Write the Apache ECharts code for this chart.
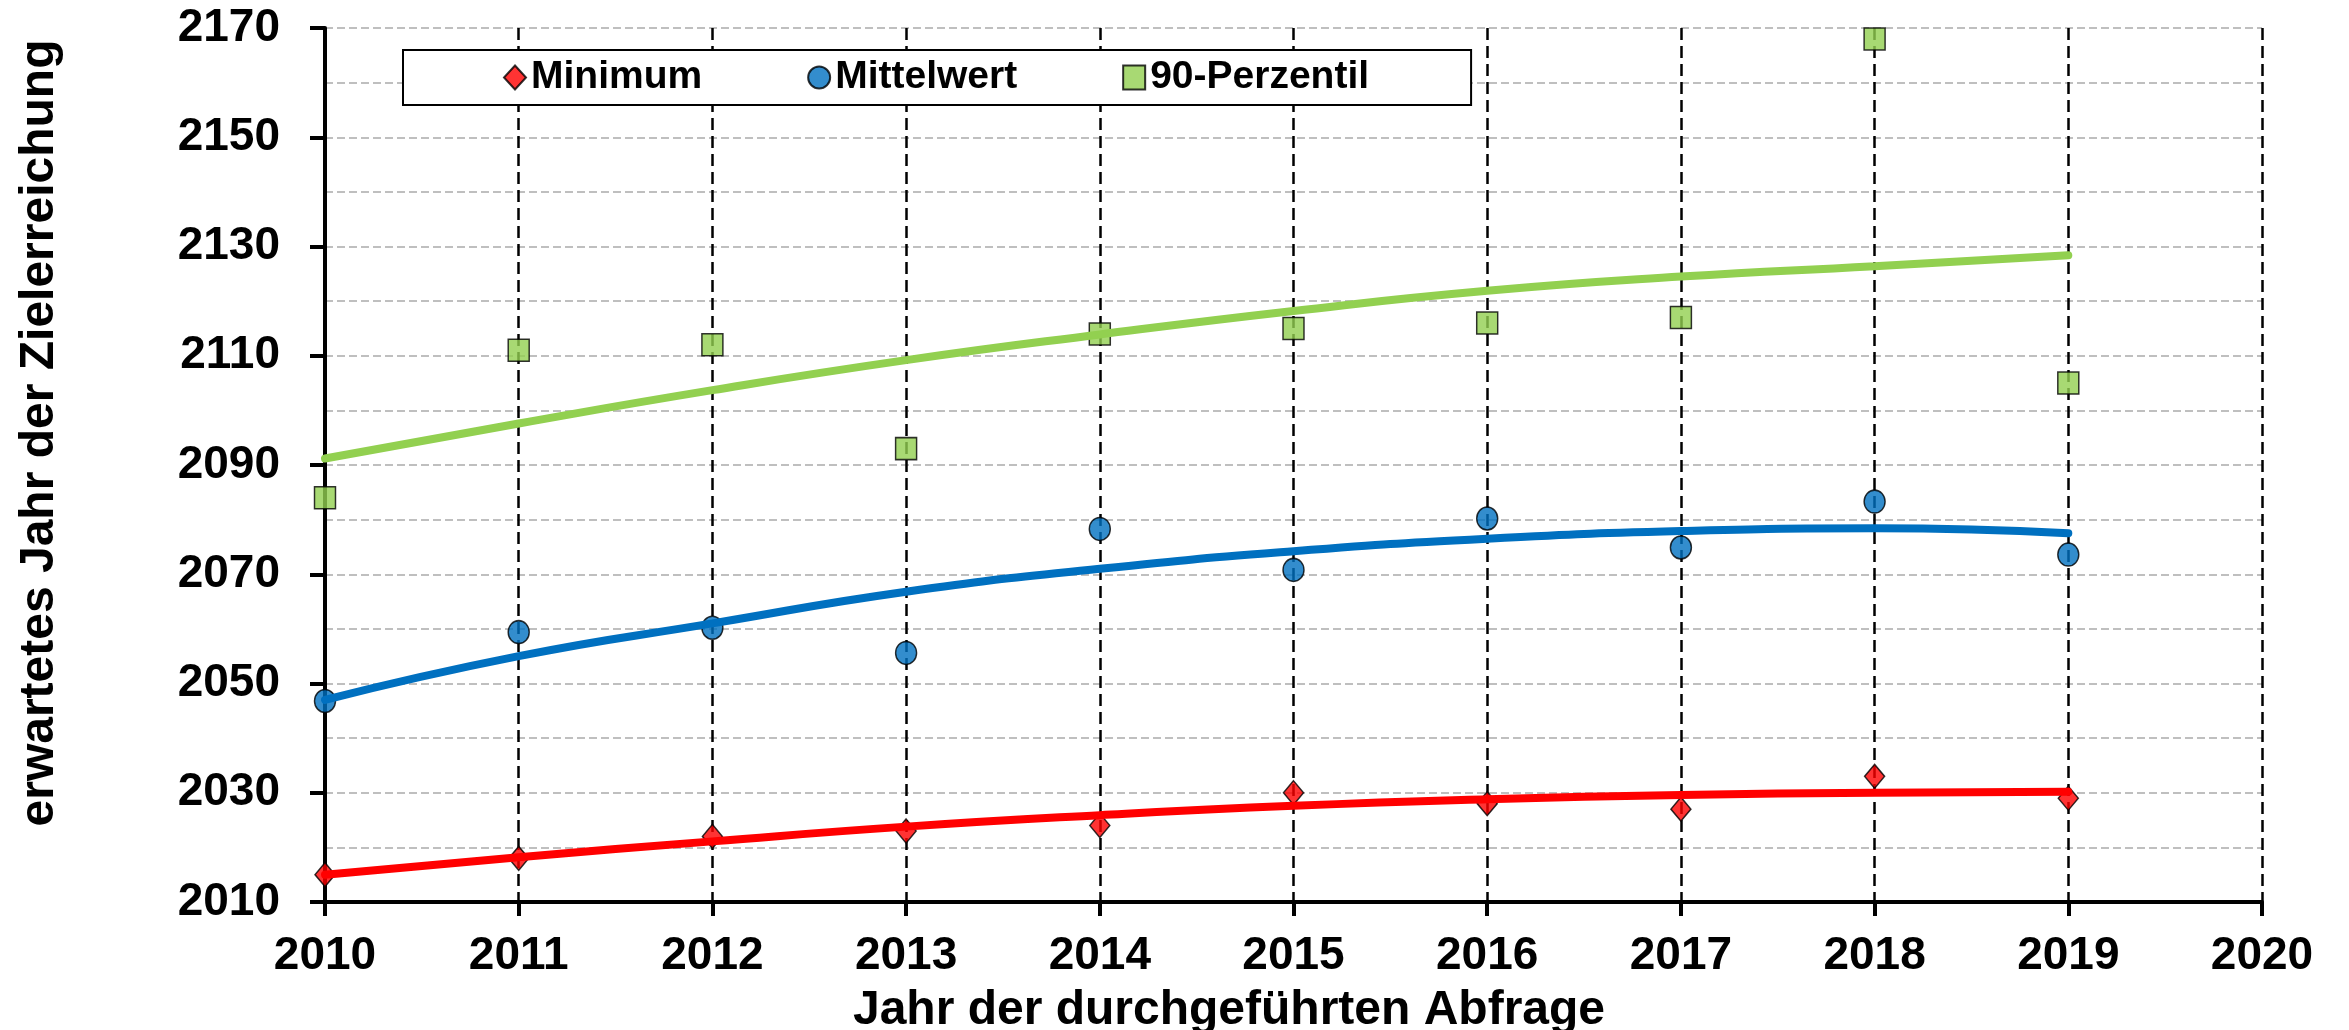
<!DOCTYPE html>
<html>
<head>
<meta charset="utf-8">
<script src="https://cdn.jsdelivr.net/npm/echarts@6/dist/echarts.min.js"></script>
<style>
  html, body { margin: 0; padding: 0; background: #fff; }
  #chart { width: 2349px; height: 1030px; }
</style>
</head>
<body>
<div id="chart"></div>
<script>
// Jahr der Abfrage
var years = [2010, 2011, 2012, 2013, 2014, 2015, 2016, 2017, 2018, 2019]
// Messpunkte
var minimum = [2015, 2018, 2022, 2023, 2024, 2030, 2028, 2027, 2033, 2029]
var mittelwert = [2046.8, 2059.4, 2060.2, 2055.6, 2078.3, 2070.8, 2080.2, 2074.9, 2083.3, 2073.6]
var perzentil90 = [2084, 2111, 2112, 2093, 2114, 2115, 2116, 2117, 2168, 2105]
// Trendlinien
var minTrend = [2015, 2018.2, 2021.1, 2023.8, 2025.9, 2027.6, 2028.8, 2029.6, 2030, 2030.2]
var meanTrend = [2047, 2055, 2061, 2066.8, 2071, 2074.2, 2076.5, 2077.9, 2078.4, 2077.5]
var p90Trend = [2091.2, 2097.6, 2103.7, 2109.2, 2113.9, 2118.2, 2121.9, 2124.5, 2126.4, 2128.4]

var seriesNames = ['Minimum', 'Mittelwert', '90-Perzentil']
var font = "'Liberation Sans', Arial, sans-serif"

function pairs(values) {
  return years.map(function (y, i) { return [y, values[i]] })
}

var chart = echarts.init(document.getElementById('chart'))

chart.setOption({
  backgroundColor: '#fff',
  animation: false,
  grid: {
    left: 325,
    right: 87,
    top: 28,
    bottom: 128,
    containLabel: false
  },
  legend: {
    data: seriesNames,
    left: 403,
    top: 50,
    padding: [8, 102, 8, 100],
    itemGap: 105,
    itemWidth: 22,
    itemHeight: 24,
    backgroundColor: '#fff',
    borderColor: '#000',
    borderWidth: 2,
    textStyle: {
      fontFamily: font,
      fontWeight: 'bold',
      fontSize: 39,
      color: '#000'
    }
  },
  graphic: [{
    type: 'text',
    x: 40,
    y: 433,
    rotation: Math.PI / 2,
    style: {
      text: 'erwartetes Jahr der Zielerreichung',
      font: 'bold 48px ' + font,
      fill: '#000',
      textAlign: 'center',
      textVerticalAlign: 'middle'
    }
  }, {
    type: 'text',
    x: 1229,
    y: 1011,
    style: {
      text: 'Jahr der durchgeführten Abfrage',
      font: 'bold 48px ' + font,
      fill: '#000',
      textAlign: 'center',
      textVerticalAlign: 'middle'
    }
  }],
  xAxis: {
    type: 'value',
    min: 2010,
    max: 2020,
    interval: 1,
    axisLine: { show: true, lineStyle: { color: '#000', width: 4 } },
    axisTick: { show: true, inside: false, length: 14, lineStyle: { color: '#000', width: 4 } },
    axisLabel: {
      margin: 31,
      fontFamily: font,
      fontWeight: 'bold',
      fontSize: 46,
      color: '#000',
      formatter: function (v) { return String(v) }
    },
    splitLine: {
      show: true,
      lineStyle: { color: '#000', width: 2.5, type: [12, 6] }
    }
  },
  yAxis: {
    type: 'value',
    min: 2010,
    max: 2170,
    interval: 20,
    axisLine: { show: true, lineStyle: { color: '#000', width: 4 } },
    axisTick: { show: true, inside: false, length: 15, lineStyle: { color: '#000', width: 4 } },
    axisLabel: {
      margin: 45,
      fontFamily: font,
      fontWeight: 'bold',
      fontSize: 46,
      color: '#000',
      formatter: function (v) { return String(v) }
    },
    splitLine: {
      show: true,
      lineStyle: { color: '#bfbfbf', width: 2, type: [8, 4] }
    },
    minorTick: { show: false, splitNumber: 2 },
    minorSplitLine: {
      show: true,
      lineStyle: { color: '#bfbfbf', width: 2, type: [8, 4] }
    }
  },
  series: [{
    name: 'Minimum',
    type: 'scatter',
    symbol: 'diamond',
    symbolSize: [20, 24],
    data: pairs(minimum),
    itemStyle: { color: '#ff0000', borderColor: '#000', borderWidth: 1.5 }
  }, {
    name: 'Mittelwert',
    type: 'scatter',
    symbol: 'circle',
    symbolSize: [21, 23],
    data: pairs(mittelwert),
    itemStyle: { color: '#0070c0', borderColor: '#000', borderWidth: 1.5 }
  }, {
    name: '90-Perzentil',
    type: 'scatter',
    symbol: 'rect',
    symbolSize: [21, 22],
    data: pairs(perzentil90),
    itemStyle: { color: '#92d050', borderColor: '#000', borderWidth: 1.5 }
  }, {
    name: 'Trend Minimum',
    type: 'line',
    smooth: true,
    showSymbol: false,
    data: pairs(minTrend),
    lineStyle: { color: '#ff0000', width: 8, cap: 'round' }
  }, {
    name: 'Trend Mittelwert',
    type: 'line',
    smooth: true,
    showSymbol: false,
    data: pairs(meanTrend),
    lineStyle: { color: '#0070c0', width: 8, cap: 'round' }
  }, {
    name: 'Trend 90-Perzentil',
    type: 'line',
    smooth: true,
    showSymbol: false,
    data: pairs(p90Trend),
    lineStyle: { color: '#92d050', width: 8, cap: 'round' }
  }]
})
</script>
</body>
</html>
